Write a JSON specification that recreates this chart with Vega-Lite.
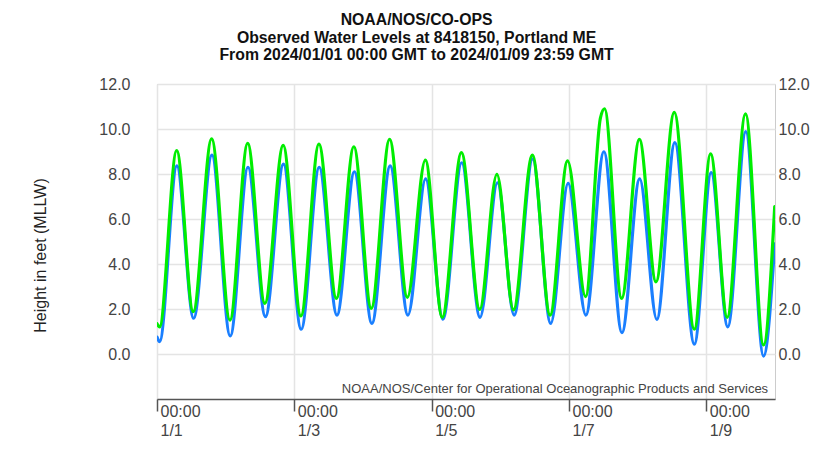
{
  "$schema": "https://vega.github.io/schema/vega-lite/v6.json",
  "width": 618,
  "height": 315,
  "autosize": {"type": "none"},
  "padding": {"left": 157, "top": 84, "right": 42, "bottom": 57},
  "background": "white",
  "config": {
    "font": "Liberation Sans",
    "view": {"stroke": "#cccccc", "strokeWidth": 1}
  },
  "title": {
    "text": ["NOAA/NOS/CO-OPS", "Observed Water Levels at 8418150, Portland ME", "From 2024/01/01 00:00 GMT to 2024/01/09 23:59 GMT"],
    "fontSize": 15.8,
    "fontWeight": "bold",
    "color": "#111111",
    "anchor": "middle",
    "frame": "bounds",
    "lineHeight": 17.5,
    "offset": 12,
    "dx": -4
  },
  "datasets": {
    "pred": [
      {"t": "2024-01-01T00:00:00Z", "v": 0.75},
      {"t": "2024-01-01T00:54:00Z", "v": 0.55},
      {"t": "2024-01-01T06:57:00Z", "v": 8.36},
      {"t": "2024-01-01T12:48:00Z", "v": 1.59},
      {"t": "2024-01-01T19:12:00Z", "v": 8.84},
      {"t": "2024-01-02T01:36:00Z", "v": 0.80},
      {"t": "2024-01-02T07:48:00Z", "v": 8.30},
      {"t": "2024-01-02T13:54:00Z", "v": 1.66},
      {"t": "2024-01-02T20:12:00Z", "v": 8.44},
      {"t": "2024-01-03T02:24:00Z", "v": 1.10},
      {"t": "2024-01-03T08:42:00Z", "v": 8.30},
      {"t": "2024-01-03T14:54:00Z", "v": 1.73},
      {"t": "2024-01-03T21:00:00Z", "v": 8.10},
      {"t": "2024-01-04T03:06:00Z", "v": 1.36},
      {"t": "2024-01-04T09:30:00Z", "v": 8.36},
      {"t": "2024-01-04T15:42:00Z", "v": 1.73},
      {"t": "2024-01-04T21:54:00Z", "v": 7.78},
      {"t": "2024-01-05T03:54:00Z", "v": 1.55},
      {"t": "2024-01-05T10:30:00Z", "v": 8.50},
      {"t": "2024-01-05T16:54:00Z", "v": 1.63},
      {"t": "2024-01-05T23:00:00Z", "v": 7.61},
      {"t": "2024-01-06T04:48:00Z", "v": 1.73},
      {"t": "2024-01-06T11:18:00Z", "v": 8.67},
      {"t": "2024-01-06T17:36:00Z", "v": 1.36},
      {"t": "2024-01-06T23:42:00Z", "v": 7.58},
      {"t": "2024-01-07T05:54:00Z", "v": 1.73},
      {"t": "2024-01-07T12:12:00Z", "v": 8.99},
      {"t": "2024-01-07T18:30:00Z", "v": 0.95},
      {"t": "2024-01-08T00:42:00Z", "v": 7.78},
      {"t": "2024-01-08T06:42:00Z", "v": 1.54},
      {"t": "2024-01-08T13:00:00Z", "v": 9.39},
      {"t": "2024-01-08T19:48:00Z", "v": 0.44},
      {"t": "2024-01-09T01:42:00Z", "v": 8.06},
      {"t": "2024-01-09T07:30:00Z", "v": 1.21},
      {"t": "2024-01-09T13:48:00Z", "v": 9.88},
      {"t": "2024-01-09T20:00:00Z", "v": -0.09},
      {"t": "2024-01-09T23:54:00Z", "v": 4.9}
    ],
    "obs": [
      {"t": "2024-01-01T00:00:00Z", "v": 1.35},
      {"t": "2024-01-01T00:52:00Z", "v": 1.2},
      {"t": "2024-01-01T06:53:00Z", "v": 9.04},
      {"t": "2024-01-01T12:40:00Z", "v": 1.88},
      {"t": "2024-01-01T19:06:00Z", "v": 9.56},
      {"t": "2024-01-02T01:30:00Z", "v": 1.51},
      {"t": "2024-01-02T07:42:00Z", "v": 9.36},
      {"t": "2024-01-02T13:42:00Z", "v": 2.25},
      {"t": "2024-01-02T20:06:00Z", "v": 9.27},
      {"t": "2024-01-03T02:18:00Z", "v": 1.69},
      {"t": "2024-01-03T08:36:00Z", "v": 9.33},
      {"t": "2024-01-03T14:42:00Z", "v": 2.47},
      {"t": "2024-01-03T20:48:00Z", "v": 9.21},
      {"t": "2024-01-04T02:54:00Z", "v": 2.03},
      {"t": "2024-01-04T09:18:00Z", "v": 9.54},
      {"t": "2024-01-04T15:30:00Z", "v": 2.52},
      {"t": "2024-01-04T21:48:00Z", "v": 8.62},
      {"t": "2024-01-05T03:42:00Z", "v": 1.63},
      {"t": "2024-01-05T10:24:00Z", "v": 8.95},
      {"t": "2024-01-05T16:48:00Z", "v": 1.98},
      {"t": "2024-01-05T22:48:00Z", "v": 7.98},
      {"t": "2024-01-06T04:36:00Z", "v": 1.96},
      {"t": "2024-01-06T11:12:00Z", "v": 8.84},
      {"t": "2024-01-06T17:24:00Z", "v": 1.73},
      {"t": "2024-01-06T23:30:00Z", "v": 8.58},
      {"t": "2024-01-07T05:48:00Z", "v": 2.55},
      {"t": "2024-01-07T11:00:00Z", "v": 10.5},
      {"t": "2024-01-07T12:24:00Z", "v": 10.9},
      {"t": "2024-01-07T18:24:00Z", "v": 2.47},
      {"t": "2024-01-08T00:36:00Z", "v": 9.54},
      {"t": "2024-01-08T06:24:00Z", "v": 3.21},
      {"t": "2024-01-08T12:48:00Z", "v": 10.74},
      {"t": "2024-01-08T19:48:00Z", "v": 1.10},
      {"t": "2024-01-09T01:30:00Z", "v": 8.89},
      {"t": "2024-01-09T07:18:00Z", "v": 1.63},
      {"t": "2024-01-09T13:42:00Z", "v": 10.67},
      {"t": "2024-01-09T20:00:00Z", "v": 0.40},
      {"t": "2024-01-09T23:54:00Z", "v": 6.55}
    ]
  },
  "resolve": {"axis": {"y": "independent"}},
  "layer": [
    {
      "data": {"name": "pred"},
      "mark": {"type": "line", "color": "#1a7fff", "strokeWidth": 3.2, "interpolate": "monotone", "strokeCap": "round", "clip": true},
      "encoding": {
        "x": {
          "field": "t", "type": "temporal",
          "scale": {"type": "utc", "domain": [{"year": 2024, "month": 1, "date": 1, "utc": true}, {"year": 2024, "month": 1, "date": 10, "utc": true}]},
          "axis": {
            "title": null,
            "values": [
              {"year": 2024, "month": 1, "date": 1, "utc": true},
              {"year": 2024, "month": 1, "date": 3, "utc": true},
              {"year": 2024, "month": 1, "date": 5, "utc": true},
              {"year": 2024, "month": 1, "date": 7, "utc": true},
              {"year": 2024, "month": 1, "date": 9, "utc": true}
            ],
            "labelExpr": "[utcFormat(datum.value, '%H:%M'), utcFormat(datum.value, '%-m/%-d')]",
            "labelAlign": "left",
            "labelBaseline": "top",
            "labelPadding": -8,
            "labelOffset": 3,
            "labelLineHeight": 19,
            "labelFontSize": 16,
            "labelColor": "#444444",
            "labelFlush": false,
            "labelOverlap": false,
            "tickSize": 12,
            "tickColor": "#555555",
            "tickWidth": 1.5,
            "domainColor": "#555555",
            "domainWidth": 1.5,
            "grid": true,
            "gridColor": "#e4e4e4",
            "gridWidth": 1.5
          }
        },
        "y": {
          "field": "v", "type": "quantitative",
          "scale": {"domain": [-2, 12], "nice": false, "zero": false},
          "axis": {
            "orient": "left",
            "title": "Height in feet (MLLW)",
            "titleFontSize": 16,
            "titleFontWeight": "normal",
            "titleColor": "#222222",
            "titleX": -117,
            "titleY": 171,
            "titleAngle": -90,
            "titleAlign": "center",
            "titleBaseline": "middle",
            "values": [0, 2, 4, 6, 8, 10, 12],
            "format": ".1f",
            "labelFontSize": 16,
            "labelColor": "#444444",
            "labelPadding": 27,
            "ticks": false,
            "domain": false,
            "grid": true,
            "gridColor": "#e4e4e4",
            "gridWidth": 1.5
          }
        }
      }
    },
    {
      "data": {"name": "obs"},
      "mark": {"type": "line", "color": "#00ee00", "strokeWidth": 3.2, "interpolate": "monotone", "strokeCap": "round", "clip": true},
      "encoding": {
        "x": {
          "field": "t", "type": "temporal",
          "scale": {"type": "utc", "domain": [{"year": 2024, "month": 1, "date": 1, "utc": true}, {"year": 2024, "month": 1, "date": 10, "utc": true}]}
        },
        "y": {
          "field": "v", "type": "quantitative",
          "scale": {"domain": [-2, 12], "nice": false, "zero": false},
          "axis": {
            "orient": "right",
            "title": null,
            "values": [0, 2, 4, 6, 8, 10, 12],
            "format": ".1f",
            "labelFontSize": 16,
            "labelColor": "#444444",
            "labelPadding": 3,
            "ticks": false,
            "domain": false,
            "grid": false
          }
        }
      }
    },
    {
      "data": {"values": [{"label": "NOAA/NOS/Center for Operational Oceanographic Products and Services"}]},
      "mark": {"type": "text", "align": "right", "baseline": "middle", "fontSize": 13, "color": "#444444"},
      "encoding": {
        "x": {"datum": {"year": 2024, "month": 1, "date": 9, "hours": 21, "minutes": 36, "utc": true}, "type": "temporal"},
        "y": {"datum": -1.56, "type": "quantitative", "axis": null},
        "text": {"field": "label"}
      }
    }
  ]
}
